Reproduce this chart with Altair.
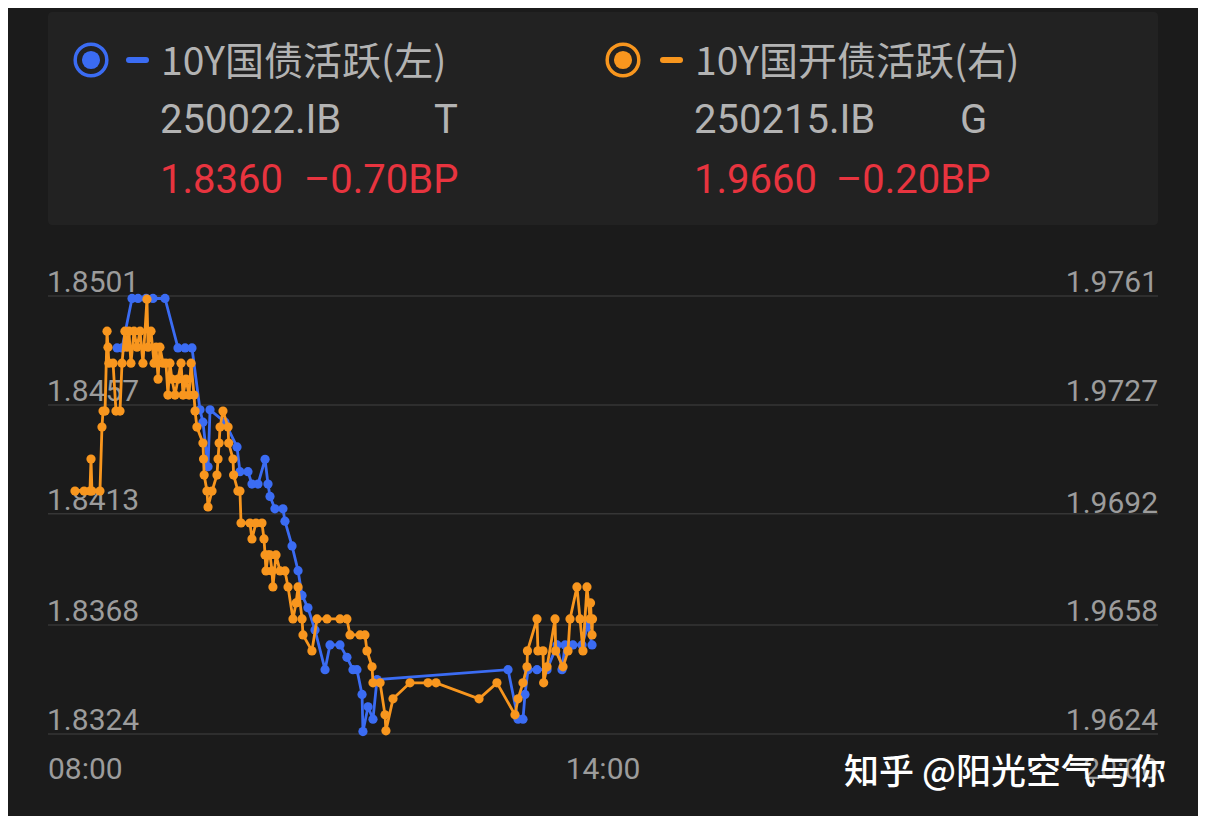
import altair as alt
import pandas as pd

# ---------------- data (minutes after 08:00, yield) ----------------
blue_t = [44.8, 48.0, 54.5, 58.4, 63.6, 68.1, 75.9, 84.3, 88.9, 93.4, 98.6, 100.5,
          103.8, 105.1, 114.8, 122.6, 124.5, 129.7, 132.3, 136.2, 140.8, 142.7,
          144.0, 147.2, 152.4, 153.7, 158.3, 162.2, 164.8, 168.6, 173.2, 179.7,
          182.9, 189.4, 193.9, 197.8, 200.4, 203.7, 204.3, 207.6, 210.8, 213.4,
          298.4, 304.9, 308.1, 309.4, 311.4, 317.2, 323.7, 330.2, 333.4, 335.4,
          340.5, 346.4, 350.3, 352.9]
blue_v = [1.8480, 1.8480, 1.8500, 1.8500, 1.8500, 1.8500, 1.8500, 1.8480, 1.8480, 1.8480,
          1.8455, 1.8450, 1.8432, 1.8455, 1.8450, 1.8440, 1.8430, 1.8430, 1.8425,
          1.8425, 1.8435, 1.8425, 1.8420, 1.8415, 1.8415, 1.8410, 1.8400, 1.8390,
          1.8380, 1.8375, 1.8366, 1.8350, 1.8360, 1.8360, 1.8355, 1.8350, 1.8350,
          1.8340, 1.8325, 1.8335, 1.8330, 1.8346, 1.8350, 1.8330, 1.8330, 1.8340,
          1.8350, 1.8350, 1.8350, 1.8360, 1.8350, 1.8360, 1.8360, 1.8360, 1.8368,
          1.8360]

orange_t = [17.5, 23.4, 27.2, 27.9, 28.5, 33.7, 35.0, 35.7, 37.0, 38.3, 38.9, 39.5,
            42.2, 44.1, 46.7, 48.0, 49.9, 51.2, 52.5, 53.8, 55.8, 57.7, 59.7, 61.6,
            64.2, 64.9, 66.8, 68.8, 70.1, 71.4, 72.6, 74.6, 76.5, 77.8, 79.1, 80.4,
            82.4, 84.3, 86.3, 87.6, 89.5, 91.5, 92.8, 94.7, 95.4, 96.6, 100.5, 100.9,
            101.3, 103.1, 103.8, 106.4, 109.6, 110.3, 111.0, 111.6, 113.5, 116.8,
            117.2, 120.0, 120.4, 123.2, 124.5, 125.2, 131.0, 132.3, 134.9, 138.8,
            140.1, 140.8, 141.4, 142.7, 144.0, 145.3, 145.9, 147.9, 150.5, 153.7,
            155.7, 158.9, 160.9, 162.2, 164.8, 165.4, 171.2, 174.5, 181.0, 189.4,
            193.9, 195.9, 202.4, 205.6, 206.9, 210.2, 210.8, 215.4, 218.6, 219.2,
            223.8, 234.8, 246.5, 251.7, 279.6, 291.2, 302.9, 304.9, 308.1, 310.7,
            311.0, 317.2, 317.8, 321.1, 321.5, 323.7, 328.9, 329.3, 334.1, 337.3,
            338.6, 343.1, 345.1, 347.0, 349.6, 351.6, 351.9, 352.9, 353.2]
orange_v = [1.9700, 1.9700, 1.9700, 1.9710, 1.9700, 1.9700, 1.9720, 1.9725, 1.9725,
            1.9750, 1.9745, 1.9740, 1.9740, 1.9725, 1.9725, 1.9740, 1.9750, 1.9745,
            1.9750, 1.9740, 1.9750, 1.9745, 1.9750, 1.9740, 1.9760, 1.9745, 1.9750,
            1.9740, 1.9745, 1.9735, 1.9745, 1.9740, 1.9740, 1.9730, 1.9740, 1.9735,
            1.9730, 1.9735, 1.9740, 1.9730, 1.9735, 1.9730, 1.9740, 1.9730, 1.9725,
            1.9720, 1.9715, 1.9710, 1.9705, 1.9700, 1.9695, 1.9700, 1.9705, 1.9710,
            1.9715, 1.9720, 1.9725, 1.9720, 1.9715, 1.9710, 1.9705, 1.9700, 1.9700,
            1.9690, 1.9690, 1.9685, 1.9690, 1.9690, 1.9685, 1.9680, 1.9675, 1.9680,
            1.9680, 1.9675, 1.9670, 1.9680, 1.9675, 1.9675, 1.9670, 1.9660, 1.9665,
            1.9670, 1.9660, 1.9655, 1.9650, 1.9660, 1.9660, 1.9660, 1.9660, 1.9655,
            1.9655, 1.9655, 1.9650, 1.9645, 1.9640, 1.9640, 1.9630, 1.9625, 1.9635,
            1.9640, 1.9640, 1.9640, 1.9635, 1.9640, 1.9630, 1.9635, 1.9640, 1.9645,
            1.9650, 1.9660, 1.9650, 1.9650, 1.9640, 1.9645, 1.9660, 1.9650, 1.9645,
            1.9650, 1.9660, 1.9670, 1.9660, 1.9650, 1.9670, 1.9660, 1.9665, 1.9655,
            1.9660]

left_ticks = [1.8324, 1.8368, 1.8413, 1.8457, 1.8501]
right_ticks = [1.9624, 1.9658, 1.9692, 1.9727, 1.9761]
x_ticks = [0, 360, 720]
x_labels = ["08:00", "14:00", "20:00"]

name_left = "10Y国债活跃(左)"
name_right = "10Y国开债活跃(右)"
code_left, tag_left = "250022.IB", "T"
code_right, tag_right = "250215.IB", "G"
last_left, chg_left = "1.8360", "–0.70BP"
last_right, chg_right = "1.9660", "–0.20BP"
watermark = "知乎 @阳光空气与你"

# ---------------- style ----------------
BG = "#1b1b1b"
PANEL = "#222222"
BLUE = "#3b6cf3"
ORANGE = "#f8961e"
GRID = "#363636"
AXIS_TXT = "#9c9c9c"
LEG_TXT = "#b3b3b3"
RED = "#e8343f"

W, H = 1190, 808
X0, X1 = 40, 1150
YT, YB = 288, 726

xs = alt.Scale(domain=[0, 720], range=[X0, X1], nice=False, zero=False)
ls = alt.Scale(domain=[1.8324, 1.8501], range=[YB, YT], nice=False, zero=False)
rs = alt.Scale(domain=[1.9624, 1.9761], range=[YB, YT], nice=False, zero=False)

df_b = pd.DataFrame({"t": blue_t, "v": blue_v, "i": range(len(blue_t))})
df_o = pd.DataFrame({"t": orange_t, "v": orange_v, "i": range(len(orange_t))})
df_l = pd.DataFrame({"v": left_ticks})
df_r = pd.DataFrame({"v": right_ticks})
df_x = pd.DataFrame({"t": x_ticks, "lab": x_labels})
dummy = pd.DataFrame({"k": [0]})

layers = []

# legend panel
layers.append(alt.Chart(dummy).mark_rect(color=PANEL, cornerRadius=4).encode(
    x=alt.value(X0), x2=alt.value(X1), y=alt.value(4), y2=alt.value(217)))

# grid lines
layers.append(alt.Chart(df_l).mark_rule(color=GRID, strokeWidth=1.5).encode(
    y=alt.Y("v:Q", scale=ls, axis=None), x=alt.value(X0), x2=alt.value(X1)))

# y labels
layers.append(alt.Chart(df_l).mark_text(align="left", baseline="alphabetic", dy=-4,
                                         font="Roboto", fontSize=30, color=AXIS_TXT).encode(
    y=alt.Y("v:Q", scale=ls, axis=None), x=alt.value(X0 - 1),
    text=alt.Text("v:Q", format=".4f")))
layers.append(alt.Chart(df_r).mark_text(align="right", baseline="alphabetic", dy=-4,
                                         font="Roboto", fontSize=30, color=AXIS_TXT).encode(
    y=alt.Y("v:Q", scale=rs, axis=None), x=alt.value(X1),
    text=alt.Text("v:Q", format=".4f")))

# x labels
for val, al in zip(x_ticks, ["left", "center", "right"]):
    layers.append(alt.Chart(df_x).transform_filter(alt.datum.t == val).mark_text(
        align=al, baseline="alphabetic", font="Roboto", fontSize=30, color=AXIS_TXT).encode(
        x=alt.X("t:Q", scale=xs, axis=None), y=alt.value(771), text="lab:N"))

# series
layers.append(alt.Chart(df_b).mark_line(
    color=BLUE, strokeWidth=2.8,
    point=alt.OverlayMarkDef(color=BLUE, size=85, filled=True, opacity=1)).encode(
    x=alt.X("t:Q", scale=xs, axis=None), y=alt.Y("v:Q", scale=ls, axis=None), order="i:Q"))
layers.append(alt.Chart(df_o).mark_line(
    color=ORANGE, strokeWidth=2.8,
    point=alt.OverlayMarkDef(color=ORANGE, size=85, filled=True, opacity=1)).encode(
    x=alt.X("t:Q", scale=xs, axis=None), y=alt.Y("v:Q", scale=rs, axis=None), order="i:Q"))

# legend symbols
for cx, col in [(83, BLUE), (615, ORANGE)]:
    layers.append(alt.Chart(dummy).mark_point(shape="circle", filled=False, size=1000,
                                              strokeWidth=3.5, color=col, opacity=1).encode(
        x=alt.value(cx), y=alt.value(52)))
    layers.append(alt.Chart(dummy).mark_point(shape="circle", filled=True, size=330,
                                              color=col, opacity=1).encode(
        x=alt.value(cx), y=alt.value(52)))
for xa, xb, col in [(121, 138, BLUE), (655, 672, ORANGE)]:
    layers.append(alt.Chart(dummy).mark_rule(color=col, strokeWidth=6, strokeCap="round").encode(
        x=alt.value(xa), x2=alt.value(xb), y=alt.value(52)))

# legend texts
def txt(s, x, y, color, size, font="Roboto", weight="normal"):
    return alt.Chart(dummy).mark_text(text=s, align="left", baseline="alphabetic",
                                      font=font, fontSize=size, color=color,
                                      fontWeight=weight).encode(
        x=alt.value(x), y=alt.value(y))

CJK = "Noto Sans CJK SC"
layers += [
    txt(name_left, 153, 67, LEG_TXT, 39, CJK),
    txt(name_right, 687, 67, LEG_TXT, 39, CJK),
    txt(code_left, 152, 125, LEG_TXT, 40),
    txt(tag_left, 426, 125, LEG_TXT, 40),
    txt(code_right, 686, 125, LEG_TXT, 40),
    txt(tag_right, 952, 125, LEG_TXT, 40),
    txt(last_left, 152, 185, RED, 40),
    txt(chg_left, 296, 185, RED, 40),
    txt(last_right, 686, 185, RED, 40),
    txt(chg_right, 828, 185, RED, 40),
]

# watermark
layers.append(alt.Chart(dummy).mark_text(text=watermark, align="left", baseline="middle",
                                         font=CJK, fontSize=35, fontWeight=500,
                                         color="#ffffff").encode(
    x=alt.value(836), y=alt.value(765)))

chart = alt.layer(*layers).resolve_scale(y="independent").properties(
    width=W, height=H, padding=0,
    autosize=alt.AutoSizeParams(type="none"),
    background=BG,
).configure_view(stroke=None)

chart.save("out.html", embed_options={"renderer": "svg", "actions": False})
